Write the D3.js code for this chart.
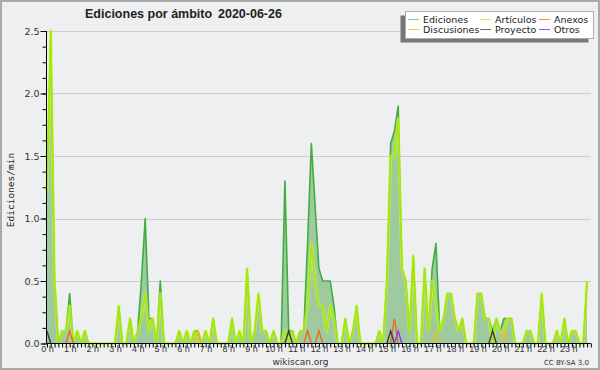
<!DOCTYPE html>
<html><head><meta charset="utf-8">
<script src="https://cdn.jsdelivr.net/npm/d3@7/dist/d3.min.js"></script>
<style>body{margin:0;background:#fff}svg{display:block}</style>
</head><body><svg id="c" width="600" height="370"></svg>
<script>
// 10-minute bins (6 per hour), values in edits/min
const hourLabels = d3.range(24).map(h => h + " h");
const yTicks = [0, 0.5, 1, 1.5, 2, 2.5];
const ediciones = [
  1.3,2.5,0.5,0,0.1,0.1,   0.4,0,0.1,0,0.1,0,   0,0,0,0,0,0,   0,0.3,0,0,0.2,0,
  0.1,0.5,1.0,0.2,0.2,0,   0.5,0,0,0,0,0.1,     0,0.1,0,0.1,0.1,0, 0.1,0,0.2,0,0,0,
  0,0.2,0,0.1,0,0.6,       0,0.1,0.4,0.1,0.1,0, 0.1,0,0,1.3,0.1,0.1, 0,0.1,0.1,0.8,1.6,1.1,
  0.6,0.5,0.5,0.5,0.3,0,   0,0.2,0,0.1,0.3,0,   0,0,0,0,0.1,0,     0.5,1.6,1.7,1.9,0.6,0.5,
  0.1,0.7,0,0,0.6,0.1,     0.6,0.8,0.1,0.2,0.4,0.4, 0.2,0.1,0.2,0,0,0, 0.4,0.4,0.2,0.2,0.1,0.2,
  0.1,0.2,0.2,0.2,0,0,     0,0.1,0.1,0,0,0.4,   0,0,0,0.1,0,0.2,   0,0.1,0.1,0,0,0.5
];
const articulos = [
  1.2,2.5,0.5,0,0.1,0.1,   0.3,0,0.1,0,0.1,0,   0,0,0,0,0,0,   0,0.3,0,0,0.2,0,
  0.1,0.2,0.4,0.1,0.2,0,   0.4,0,0,0,0,0.1,     0,0.1,0,0.1,0,0,   0.1,0,0.2,0,0,0,
  0,0.2,0,0.1,0,0.6,       0,0.1,0.4,0.1,0.1,0, 0.1,0,0,0.1,0,0.1, 0,0.1,0.1,0.3,0.8,0.5,
  0.3,0.3,0.1,0.3,0.2,0,   0,0.2,0,0.1,0.3,0,   0,0,0,0,0.1,0,     0.5,1.5,1.5,1.8,0.6,0.5,
  0.1,0.7,0,0,0.6,0.1,     0.5,0.3,0.1,0.2,0.4,0.4, 0.2,0.1,0.2,0,0,0, 0.4,0.4,0.2,0.2,0,0.2,
  0.1,0.1,0.2,0.2,0,0,     0,0.1,0.1,0,0,0.4,   0,0,0,0.1,0,0.2,   0,0.1,0.1,0,0,0.5
];
const anexos = new Array(144).fill(0);
const discusiones = new Array(144).fill(0);
const proyecto = new Array(144).fill(0);
const otros = new Array(144).fill(0);
// sparse series points: [bin, value]
const anexosPts = [[6,0.1],[69,0.1],[72,0.1],[92,0.2]];
const discusionesPts = [[40,0.1],[103,0.1],[121,0.1]];
const proyectoPts = [[0,0.1],[64,0.1],[91,0.1],[118,0.1]];
const otrosPts = [[93,0.1]];
anexosPts.forEach(([i,v]) => anexos[i] = v);
discusionesPts.forEach(([i,v]) => discusiones[i] = v);
proyectoPts.forEach(([i,v]) => proyecto[i] = v);
otrosPts.forEach(([i,v]) => otros[i] = v);

const legendItems = [
  {name:"Ediciones", color:"#88c888", col:0, row:0},
  {name:"Artículos", color:"#cdef55", col:1, row:0},
  {name:"Anexos", color:"#f08850", col:2, row:0},
  {name:"Discusiones", color:"#f2c84a", col:0, row:1},
  {name:"Proyecto", color:"#666666", col:1, row:1},
  {name:"Otros", color:"#9a50e8", col:2, row:1}
];

const svg = d3.select("#c");
const W = 600, H = 370;
const x = d3.scaleLinear().domain([0, 144]).range([47, 590.8]);
const y = d3.scaleLinear().domain([0, 2.5]).range([343.5, 31]);

svg.append("rect").attr("x",0).attr("y",0).attr("width",W).attr("height",H).attr("fill","#eeeff0");
svg.append("rect").attr("x",1).attr("y",1).attr("width",W-2).attr("height",H-2)
  .attr("fill","none").attr("stroke","#aaaaaa").attr("stroke-width",2);

// gridlines
svg.append("g").selectAll("line").data(yTicks.filter(d => d > 0)).join("line")
  .attr("x1", x(0)).attr("x2", x(144))
  .attr("y1", d => Math.round(y(d)) + 0.5).attr("y2", d => Math.round(y(d)) + 0.5)
  .attr("stroke", "#cccccc").attr("stroke-width", 1);

const idx = d3.range(144);
const area = d3.area().x(i => x(i)).y0(y(0)).y1(i => y(ediciones[i]));
const line = arr => d3.line().x(i => x(i)).y(i => y(arr[i]))(idx);

svg.append("path").attr("d", area(idx)).attr("fill", "#9fc99f");
svg.append("path").attr("d", line(ediciones)).attr("fill","none")
  .attr("stroke","#3fae3f").attr("stroke-width",1.6).attr("stroke-linejoin","round");
svg.append("path").attr("d", line(articulos)).attr("fill","none")
  .attr("stroke","rgba(210,255,60,0.55)").attr("stroke-width",3.2).attr("stroke-linejoin","round");
svg.append("path").attr("d", line(articulos)).attr("fill","none")
  .attr("stroke","#a6e60e").attr("stroke-width",1.6).attr("stroke-linejoin","round");

const minor = [[discusiones,"#f0c020"],[anexos,"#f06a1e"],[proyecto,"#3c3c3c"],[otros,"#8a3cf0"]];
minor.forEach(([arr,col]) => {
  const segs = [];
  arr.forEach((v,i) => { if (v > 0) segs.push(i); });
  svg.append("g").selectAll("path").data(segs).join("path")
    .attr("d", i => d3.line().x(j => x(j)).y(j => y(arr[j] || 0))(
      [i-1, i, i+1].filter(j => j >= 0 && j < 144)))
    .attr("fill","none").attr("stroke",col).attr("stroke-width",1.4);
});

// y axis
const yMinor = d3.range(0, 2.5001, 0.125);
svg.append("g").attr("transform","translate(46.5,0)")
  .call(d3.axisLeft(y).tickValues(yMinor).tickSize(4).tickFormat(""))
  .call(g => g.selectAll("line").attr("stroke","#000"))
  .call(g => g.select(".domain").remove());
svg.append("g").attr("transform","translate(46.5,0)")
  .call(d3.axisLeft(y).tickValues(yTicks).tickSize(6).tickPadding(1).tickFormat(d3.format(".1f")))
  .call(g => g.selectAll("line").attr("stroke","#000"))
  .call(g => g.select(".domain").attr("stroke","#000").attr("d","M0," + y(2.5) + "V" + (y(0)+0.5)))
  .call(g => g.selectAll("text").attr("font-family","DejaVu Sans").attr("font-size",9.5).attr("fill","#333"));

// x axis
svg.append("g").attr("transform","translate(0,343.5)")
  .call(d3.axisBottom(x).tickValues(d3.range(0,145)).tickSize(4).tickFormat(""))
  .call(g => g.selectAll("line").attr("stroke","#000"))
  .call(g => g.select(".domain").attr("stroke","#000").attr("d","M" + x(0) + ",0H" + x(144)));
svg.append("g").attr("transform","translate(0,343.5)")
  .call(d3.axisBottom(x).tickValues(d3.range(0,144,6)).tickSize(0).tickPadding(2)
    .tickFormat((d,k) => hourLabels[k]))
  .call(g => g.select(".domain").remove())
  .call(g => g.selectAll("text").attr("font-family","Liberation Sans").attr("font-size",9).attr("fill","#333"));

// titles
svg.append("text").attr("x",85).attr("y",17.5).attr("font-family","Liberation Sans")
  .attr("font-weight","bold").attr("font-size",12.5).attr("fill","#222")
  .text("Ediciones por ámbito");
svg.append("text").attr("x",218).attr("y",17.5).attr("font-family","Liberation Sans")
  .attr("font-weight","bold").attr("font-size",12.5).attr("fill","#222")
  .text("2020-06-26");
svg.append("text").attr("transform","translate(14,190) rotate(-90)").attr("text-anchor","middle")
  .attr("font-family","DejaVu Sans Mono").attr("font-size",9.5).attr("fill","#222").text("Ediciones/min");
svg.append("text").attr("x",300.5).attr("y",364.5).attr("text-anchor","middle")
  .attr("font-family","DejaVu Sans").attr("font-size",9).attr("fill","#333").text("wikiscan.org");
svg.append("text").attr("x",589).attr("y",365).attr("text-anchor","end")
  .attr("font-family","DejaVu Sans").attr("font-size",7).attr("fill","#333").text("CC BY-SA 3.0");

// legend
const lg = svg.append("g");
lg.append("rect").attr("x",400.5).attr("y",15.5).attr("width",188).attr("height",27).attr("fill","#777");
lg.append("rect").attr("x",405.5).attr("y",11.5).attr("width",188).attr("height",27)
  .attr("fill","#fff").attr("stroke","#aaa");
const colX = [408, 480, 539];
lg.selectAll("g.it").data(legendItems).join("g").attr("class","it").each(function(d){
  const g = d3.select(this);
  const yy = 19.5 + d.row * 10;
  g.append("line").attr("x1",colX[d.col]).attr("x2",colX[d.col]+11).attr("y1",yy).attr("y2",yy)
    .attr("stroke",d.color).attr("stroke-width",1);
  g.append("text").attr("x",colX[d.col]+15).attr("y",yy+3.5).attr("font-family","DejaVu Sans")
    .attr("font-size",9.5).attr("fill","#222").text(d.name);
});
</script></body></html>
